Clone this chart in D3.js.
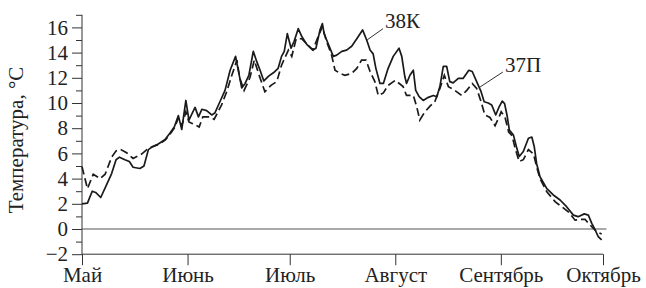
<!DOCTYPE html>
<html>
<head>
<meta charset="utf-8">
<script src="https://cdn.jsdelivr.net/npm/d3@7"></script>
<style>
  body { margin: 0; background: #fff; }
  text { font-family: "Liberation Serif", "DejaVu Serif Condensed", serif; fill: #222; }
</style>
</head>
<body>
<script>
// days counted from 1 May
const monthStarts = [0, 31, 61, 92, 123, 153];
const monthNames = ['Май', 'Июнь', 'Июль', 'Август', 'Сентябрь', 'Октябрь'];

const yMajor = [-2, 0, 2, 4, 6, 8, 10, 12, 14, 16];
const yMinor = [-1, 1, 3, 5, 7, 9, 11, 13, 15, 17];

// 38К (solid)
const solidDay = [0, 1.6, 3, 4, 5.5, 7.2, 8.7, 10, 11, 12.6, 13.9, 15, 17, 18.2, 19.5, 20.5, 22.4, 24.4,
  25.8, 27.1, 28.3, 29.3, 30.5, 31.4, 33.2, 34.2, 35.2, 36.6, 38.1, 39, 40.5, 42, 43.5, 45.1, 46.9,
  47.9, 49, 50.3, 51.3, 52.3, 53.4, 54.9, 56.2, 57.6, 58.6, 59.4, 60.3, 61.4, 62.3, 63.5, 64.5, 66,
  67.8, 68.7, 69.9, 70.6, 71.1, 72.3, 73.8, 74.8, 76.3, 77.7, 79.2, 80.7, 82.4, 83.6, 84.6, 85.5,
  86.3, 87.5, 88.5, 89.9, 91.4, 93.1, 93.9, 94.8, 95.3, 96.3, 97.3, 98, 99, 100.2, 101.7, 103.2,
  104.2, 105.1, 106.1, 107.1, 108, 109, 110.5, 111.9, 113.6, 114.6, 115.9, 117.2, 118.1, 119.3,
  120.3, 121.5, 122.5, 123.4, 124.1, 124.8, 125.5, 126.7, 127.7, 128.4, 129.6, 131.1, 132.1, 132.8,
  133.5, 134.5, 136.5, 138.4, 140.4, 142.3, 144.3, 145.7, 147.5, 148.7, 149.7, 150.7, 151.6, 152.6];
const solidTemp = [2.0, 2.05, 3.0, 2.9, 2.5, 3.5, 4.4, 5.5, 5.7, 5.5, 5.35, 4.9, 4.8, 5.0, 6.3, 6.5, 6.75, 7.1,
  7.6, 8.1, 9.0, 7.9, 10.2, 8.65, 9.65, 8.9, 9.5, 9.4, 9.05, 9.2, 10.1, 11.0, 12.6, 13.7, 11.2,
  11.55, 12.2, 14.1, 13.3, 12.6, 11.75, 12.15, 12.4, 12.75, 13.7, 14.1, 15.5, 14.35, 14.9, 15.9, 15.3, 14.65,
  14.2, 14.35, 15.8, 16.3, 15.5, 14.7, 13.7, 13.8, 14.1, 14.2, 14.5, 15.1, 15.8, 15.0, 14.2, 13.9,
  12.75, 11.55, 11.55, 12.75, 13.7, 14.35, 13.7, 12.1, 11.55, 12.2, 12.6, 11.0, 10.5, 10.2, 10.45, 10.6,
  10.5, 11.3, 12.9, 12.9, 11.7, 11.6, 11.95, 11.95, 12.6, 12.5, 11.7, 10.9, 10.1, 10.0,
  9.85, 9.05, 9.7, 10.15, 9.95, 9.05, 7.85, 7.45, 6.4, 5.75, 6.15, 7.2, 7.3, 6.55,
  5.2, 4.15, 3.2, 2.7, 2.3, 1.77, 1.1, 0.98, 1.2, 1.1, 0.45, -0.08, -0.6, -0.87];

// 37П (dashed)
const dashDay = [0, 1.6, 3.3, 5.3, 6.8, 8.7, 10, 11.4, 13.1, 15, 17.5, 19.5, 22.4, 24.4, 25.8, 27.1, 28.3,
  29.3, 30.5, 31.4, 32.2, 34.4, 35.5, 37.5, 38.8, 41, 42.5, 44, 45.5, 46.3, 47.6, 49.3, 50.6, 51.9,
  53.7, 55.5, 57.2, 58.6, 60.6, 61.6, 62.9, 64.5, 66, 67.8, 69.4, 70.6, 71.8, 73.3, 74.3, 75.8, 77.2,
  79.2, 80.7, 82.1, 83.4, 84.6, 86, 87, 88.5, 89.9, 92, 94.3, 95.3, 97.3, 98.3, 99.2, 100.7, 102.2,
  103.6, 105.1, 106.4, 107.6, 109.5, 111.5, 113, 114.6, 115.9, 117.2, 118.3, 119.8, 121.3, 122.5,
  123.1, 124.2, 125.3, 126.3, 127.2, 128.4, 129.6, 131.1, 132.6, 133.5, 134.5, 136.5, 139, 140.9,
  142.8, 144.8, 146.2, 147.7, 149.7, 151.1, 152.6];
const dashTemp = [4.95, 3.2, 4.35, 4.0, 4.35, 5.7, 6.2, 6.3, 6.05, 5.6, 5.95, 6.4, 6.7, 7.05, 7.5, 8.0, 8.8,
  8.2, 9.3, 8.5, 8.4, 8.1, 8.9, 8.9, 8.7, 9.85, 10.9, 12.2, 13.4, 12.0, 11.0, 12.0, 13.4, 12.3,
  10.9, 11.4, 11.7, 13.0, 14.2, 13.7, 15.1, 15.1, 14.7, 14.2, 15.3, 16.05, 14.9, 13.8, 12.6, 12.35, 12.2,
  12.35, 12.75, 13.4, 13.4, 12.5, 11.7, 10.6, 10.8, 11.4, 11.8, 11.3, 10.6, 10.6, 9.7, 8.65, 9.3, 9.75,
  10.1, 11.15, 12.2, 11.3, 11.0, 10.6, 11.0, 11.55, 11.15, 10.1, 9.05, 8.85, 8.2, 8.9,
  9.3, 8.9, 7.7, 7.4, 6.4, 5.35, 5.5, 6.3, 5.95, 4.95, 4.0, 2.95, 2.15, 1.77,
  1.37, 0.7, 0.77, 0.77, 0.18, -0.2, -0.4];

// series labels: text anchor and leader line ends (day, temperature)
const labelNames = ['38К', '37П'];
const labelPos = [[89, 15.95], [124.2, 12.46]];
const leaderFrom = [[83.7, 15.0], [116.9, 11.27]];
const leaderTo = [[88.4, 15.9], [123.6, 12.46]];

const W = 646;
const H = 288;
const fontSize = 21;
const fontStack = '"Liberation Serif", "DejaVu Serif Condensed", serif';

const x = d3.scaleLinear().domain([0, 153]).range([82, 603]);
const y = d3.scaleLinear().domain([0, 16]).range([229, 27.4]);

const svg = d3.select('body')
  .append('svg')
  .attr('width', W)
  .attr('height', H);

// y axis: major ticks with labels, minor ticks without
const yAxis = svg.append('g')
  .attr('transform', `translate(${x(0)}, 0)`)
  .call(d3.axisLeft(y).tickValues(yMajor).tickSize(10).tickPadding(4)
    .tickFormat((d) => (d < 0 ? `\u2212${-d}` : d)));
yAxis.select('.domain').attr('d', `M0,${y(-2)}V${y(17)}`);

svg.append('g')
  .attr('transform', `translate(${x(0)}, 0)`)
  .call(d3.axisLeft(y).tickValues(yMinor).tickSize(6).tickFormat(''))
  .select('.domain').remove();

// x axis
svg.append('g')
  .attr('transform', `translate(0, ${y(-2)})`)
  .call(d3.axisBottom(x).tickValues(monthStarts).tickSize(11).tickPadding(2)
    .tickFormat((d, i) => monthNames[i]))
  .call((g) => g.select('.domain').attr('d', `M${x(0)},0H${x(153)}`));

svg.selectAll('g').attr('font-family', fontStack);
svg.selectAll('.tick text')
  .style('font-size', `${fontSize}px`)
  .style('font-family', fontStack)
  .attr('fill', '#222');
svg.selectAll('.domain, .tick line').attr('stroke', '#333');

// zero line
svg.append('line')
  .attr('x1', x(0))
  .attr('x2', x(154))
  .attr('y1', y(0))
  .attr('y2', y(0))
  .attr('stroke', '#555')
  .attr('stroke-width', 1.2);

svg.append('text')
  .attr('transform', 'rotate(-90)')
  .attr('x', -140)
  .attr('y', 23)
  .style('text-anchor', 'middle')
  .style('font-size', `${fontSize}px`)
  .text('Температура, °C');

const line = d3.line()
  .x((d) => x(d[0]))
  .y((d) => y(d[1]));

svg.append('path')
  .datum(solidDay.map((d, i) => [d, solidTemp[i]]))
  .attr('d', line)
  .attr('fill', 'none')
  .attr('stroke', '#1a1a1a')
  .attr('stroke-width', 1.7)
  .attr('stroke-linejoin', 'round');

svg.append('path')
  .datum(dashDay.map((d, i) => [d, dashTemp[i]]))
  .attr('d', line)
  .attr('fill', 'none')
  .attr('stroke', '#1a1a1a')
  .attr('stroke-width', 1.7)
  .attr('stroke-dasharray', '8,4');

// leaders and series labels
svg.selectAll('.leader')
  .data(labelNames)
  .join('line')
  .attr('class', 'leader')
  .attr('x1', (d, i) => x(leaderFrom[i][0]))
  .attr('y1', (d, i) => y(leaderFrom[i][1]))
  .attr('x2', (d, i) => x(leaderTo[i][0]))
  .attr('y2', (d, i) => y(leaderTo[i][1]))
  .attr('stroke', '#333')
  .attr('stroke-width', 1);

svg.selectAll('.lbl')
  .data(labelNames)
  .join('text')
  .attr('class', 'lbl')
  .attr('x', (d, i) => x(labelPos[i][0]))
  .attr('y', (d, i) => y(labelPos[i][1]))
  .style('font-size', `${fontSize}px`)
  .text((d) => d);
</script>
</body>
</html>
